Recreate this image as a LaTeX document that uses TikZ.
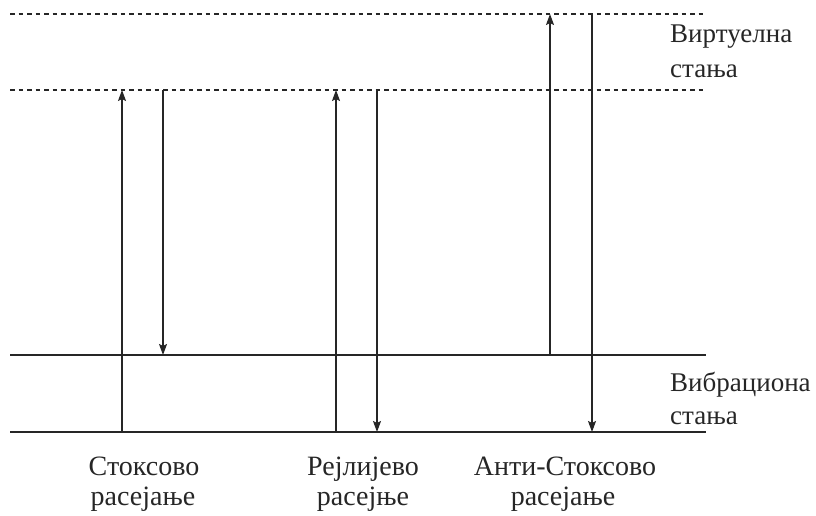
\documentclass[tikz,border=0pt]{standalone}
\usepackage{fontspec}
\setmainfont{Liberation Serif}
\usetikzlibrary{arrows.meta}
\begin{document}
\begin{tikzpicture}[x=1pt,y=-1pt,
  level/.style={line width=1.3pt,black!85},
  vlevel/.style={line width=1.2pt,dash pattern=on 4.5pt off 4pt,black!85},
  trans/.style={line width=1.2pt,black!85,-{Stealth[length=11pt,width=8pt,inset=2pt]}},
  rlbl/.style={font=\fontsize{27}{33}\selectfont,anchor=base west,inner sep=0pt,text=black!85},
  blbl/.style={font=\fontsize{28}{33}\selectfont,anchor=base,inner sep=0pt,text=black!85}]
\useasboundingbox (0,0) rectangle (816,516);
% levels
\coordinate (v1l) at (10,14); \coordinate (v1r) at (706,14);
\coordinate (v0l) at (10,90); \coordinate (v0r) at (706,90);
\coordinate (g1l) at (10,355); \coordinate (g1r) at (706,355);
\coordinate (g0l) at (10,432); \coordinate (g0r) at (706,432);
\draw[vlevel] (v1l) -- (v1r);
\draw[vlevel] (v0l) -- (v0r);
\draw[level] (g1l) -- (g1r);
\draw[level] (g0l) -- (g0r);
% Stokes
\coordinate (s1a) at (122,432); \coordinate (s1b) at (122,90);
\coordinate (s2a) at (163,90); \coordinate (s2b) at (163,355);
\draw[trans] (s1a) -- (s1b);
\draw[trans] (s2a) -- (s2b);
% Rayleigh
\coordinate (r1a) at (336,432); \coordinate (r1b) at (336,90);
\coordinate (r2a) at (377,90); \coordinate (r2b) at (377,432);
\draw[trans] (r1a) -- (r1b);
\draw[trans] (r2a) -- (r2b);
% Anti-Stokes
\coordinate (a1a) at (550,355); \coordinate (a1b) at (550,14);
\coordinate (a2a) at (592,14); \coordinate (a2b) at (592,432);
\draw[trans] (a1a) -- (a1b);
\draw[trans] (a2a) -- (a2b);
% labels
\node[rlbl] (virt1) at (670,43) {Виртуелна};
\node[rlbl] (virt2) at (670,78) {стања};
\node[rlbl] (vib1) at (670,391) {Вибрациона};
\node[rlbl] (vib2) at (670,424) {стања};
\node[blbl] (stokes1) at (144,475) {Стоксово};
\node[blbl] (stokes2) at (143,505) {расејање};
\node[blbl] (rayl1) at (363,475) {Рејлијево};
\node[blbl] (rayl2) at (363,505) {расејње};
\node[blbl] (anti1) at (565,475) {Анти-Стоксово};
\node[blbl] (anti2) at (563,505) {расејање};
\end{tikzpicture}
\end{document}
